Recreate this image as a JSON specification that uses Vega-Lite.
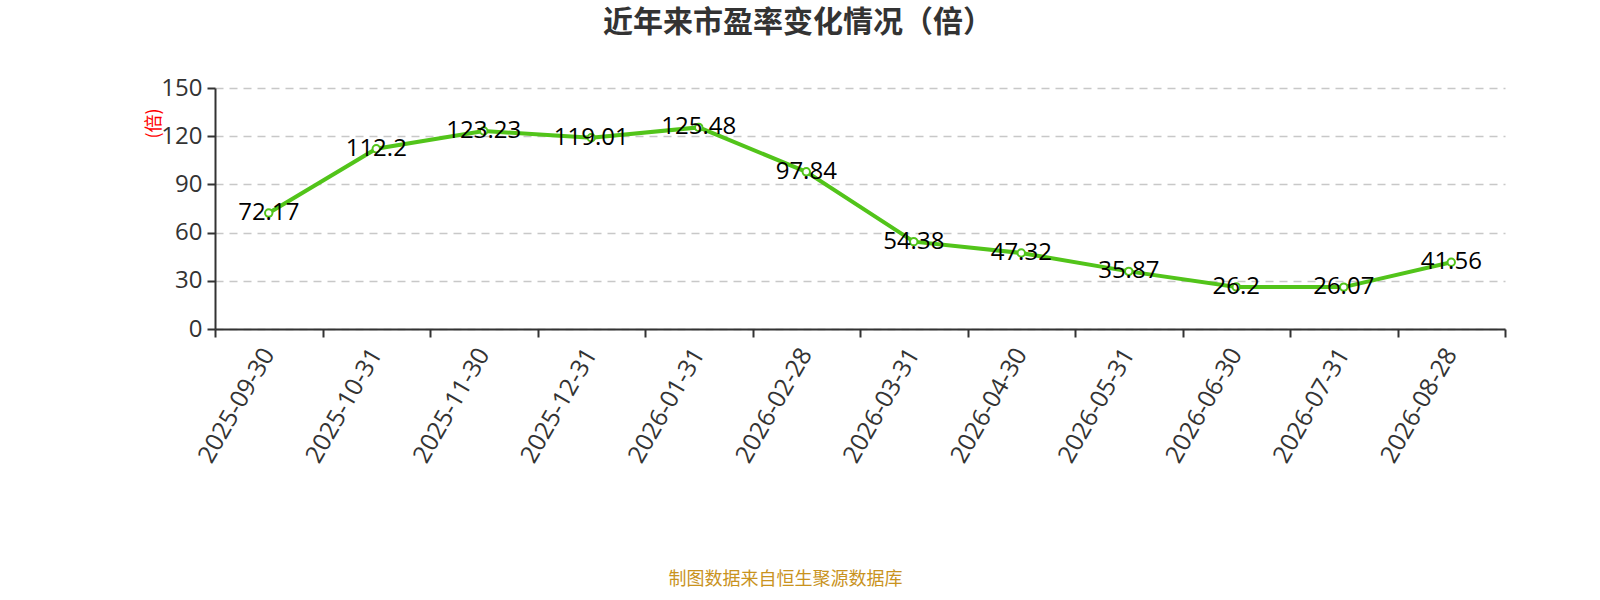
{
  "$schema": "https://vega.github.io/schema/vega-lite/v6.json",
  "autosize": "none",
  "width": 1290,
  "height": 241,
  "padding": {"left": 215, "top": 88, "right": 95, "bottom": 271},
  "background": "white",
  "title": {
    "text": "近年来市盈率变化情况（倍）",
    "fontSize": 30,
    "fontWeight": "bold",
    "color": "#333333",
    "font": "Noto Sans CJK SC",
    "anchor": "middle",
    "dx": -62,
    "offset": 38
  },
  "config": {
    "font": "Open Sans",
    "view": {"stroke": null}
  },
  "data": {
    "values": [
      {"date": "2025-09-30", "pe": 72.17},
      {"date": "2025-10-31", "pe": 112.2},
      {"date": "2025-11-30", "pe": 123.23},
      {"date": "2025-12-31", "pe": 119.01},
      {"date": "2026-01-31", "pe": 125.48},
      {"date": "2026-02-28", "pe": 97.84},
      {"date": "2026-03-31", "pe": 54.38},
      {"date": "2026-04-30", "pe": 47.32},
      {"date": "2026-05-31", "pe": 35.87},
      {"date": "2026-06-30", "pe": 26.2},
      {"date": "2026-07-31", "pe": 26.07},
      {"date": "2026-08-28", "pe": 41.56}
    ]
  },
  "encoding": {
    "x": {
      "field": "date",
      "type": "ordinal",
      "sort": null,
      "scale": {"type": "band", "paddingInner": 0, "paddingOuter": 0},
      "axis": {
        "title": "制图数据来自恒生聚源数据库",
        "titleFont": "Noto Sans CJK SC",
        "titleColor": "#c9931e",
        "titleFontSize": 18,
        "titleFontWeight": "normal",
        "titleX": 570,
        "titleY": 241,
        "labelAngle": -60,
        "labelAlign": "right",
        "labelBaseline": "middle",
        "labelFontSize": 24.5,
        "labelColor": "#333333",
        "labelPadding": 13,
        "tickBand": "extent",
        "tickColor": "#333333",
        "tickSize": 8,
        "tickWidth": 2,
        "domainColor": "#333333",
        "domainWidth": 2,
        "grid": false
      }
    },
    "y": {
      "field": "pe",
      "type": "quantitative",
      "scale": {"domain": [0, 150]},
      "axis": {
        "title": "(倍)",
        "titleFont": "Noto Sans CJK SC",
        "titleColor": "red",
        "titleFontSize": 18,
        "titleFontWeight": "normal",
        "titleX": -61,
        "titleY": 35,
        "titleAlign": "center",
        "titleBaseline": "middle",
        "values": [0, 30, 60, 90, 120, 150],
        "labelFontSize": 24,
        "labelColor": "#333333",
        "labelPadding": 5,
        "tickColor": "#333333",
        "tickSize": 8,
        "tickWidth": 2,
        "domainColor": "#333333",
        "domainWidth": 2,
        "gridColor": "#c8c8c8",
        "gridDash": [8, 6],
        "gridWidth": 1.5
      }
    }
  },
  "layer": [
    {
      "mark": {"type": "line", "color": "#52c41a", "strokeWidth": 4}
    },
    {
      "mark": {
        "type": "point",
        "shape": "circle",
        "filled": true,
        "fill": "white",
        "stroke": "#52c41a",
        "strokeWidth": 2,
        "size": 55,
        "opacity": 1
      }
    },
    {
      "mark": {
        "type": "text",
        "fontSize": 24,
        "color": "#000000",
        "align": "center",
        "baseline": "middle"
      },
      "encoding": {"text": {"field": "pe", "type": "quantitative"}}
    }
  ]
}
